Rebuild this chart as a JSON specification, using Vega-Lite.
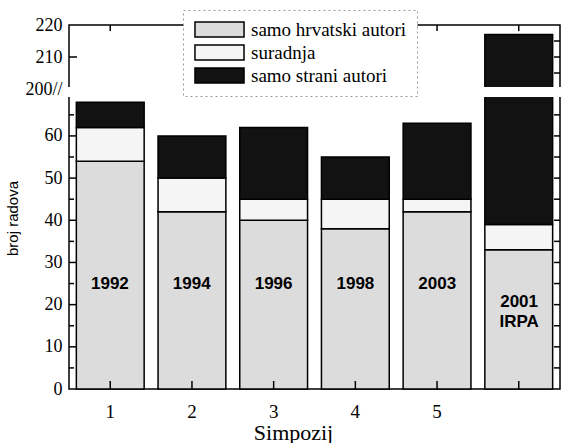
{
  "$schema": "https://vega.github.io/schema/vega-lite/v6.json",
  "width": 491,
  "height": 364,
  "autosize": {"type": "none"},
  "padding": {"left": 69, "top": 25, "right": 4, "bottom": 54},
  "background": "white",
  "config": {
    "view": {"stroke": "black", "strokeWidth": 1.5},
    "font": "Liberation Serif",
    "axis": {"domain": false, "ticks": false, "labelColor": "black", "titleColor": "black", "grid": false}
  },
  "datasets": {
    "bars": [
      {"sim": 1, "grupa": "samo hrvatski autori", "k": 1, "n": 54},
      {"sim": 1, "grupa": "suradnja", "k": 2, "n": 8},
      {"sim": 1, "grupa": "samo strani autori", "k": 3, "n": 6},
      {"sim": 2, "grupa": "samo hrvatski autori", "k": 1, "n": 42},
      {"sim": 2, "grupa": "suradnja", "k": 2, "n": 8},
      {"sim": 2, "grupa": "samo strani autori", "k": 3, "n": 10},
      {"sim": 3, "grupa": "samo hrvatski autori", "k": 1, "n": 40},
      {"sim": 3, "grupa": "suradnja", "k": 2, "n": 5},
      {"sim": 3, "grupa": "samo strani autori", "k": 3, "n": 17},
      {"sim": 4, "grupa": "samo hrvatski autori", "k": 1, "n": 38},
      {"sim": 4, "grupa": "suradnja", "k": 2, "n": 7},
      {"sim": 4, "grupa": "samo strani autori", "k": 3, "n": 10},
      {"sim": 5, "grupa": "samo hrvatski autori", "k": 1, "n": 42},
      {"sim": 5, "grupa": "suradnja", "k": 2, "n": 3},
      {"sim": 5, "grupa": "samo strani autori", "k": 3, "n": 18},
      {"sim": 6, "grupa": "samo hrvatski autori", "k": 1, "n": 33},
      {"sim": 6, "grupa": "suradnja", "k": 2, "n": 6},
      {"sim": 6, "grupa": "samo strani autori", "k": 3, "n": 178}
    ],
    "labels": [
      {"sim": 1, "t": "1992", "ly": 25},
      {"sim": 2, "t": "1994", "ly": 25},
      {"sim": 3, "t": "1996", "ly": 25},
      {"sim": 4, "t": "1998", "ly": 25},
      {"sim": 5, "t": "2003", "ly": 25},
      {"sim": 6, "t": "2001\nIRPA", "ly": 20.6}
    ],
    "brk": [{"a": 69.7, "b": 200}],
    "majorTicks": [{"v": 10}, {"v": 20}, {"v": 30}, {"v": 40}, {"v": 50}, {"v": 60}, {"v": 210}],
    "minorTicks": [{"v": 5}, {"v": 15}, {"v": 25}, {"v": 35}, {"v": 45}, {"v": 55}, {"v": 65}],
    "rightTicks": [{"v": 5}, {"v": 10}, {"v": 15}, {"v": 20}, {"v": 25}, {"v": 30}, {"v": 35}, {"v": 40}, {"v": 45}, {"v": 50}, {"v": 55}, {"v": 60}, {"v": 65}, {"v": 205}, {"v": 210}, {"v": 215}]
  },
  "layer": [
    {
      "data": {"name": "bars"},
      "mark": {"type": "bar", "stroke": "black", "strokeWidth": 1.5},
      "encoding": {
        "x": {
          "field": "sim", "type": "ordinal",
          "scale": {"paddingInner": 0.17, "paddingOuter": 0.09},
          "axis": {"orient": "bottom", "labelAngle": 0, "labelFontSize": 19, "labelFont": "Liberation Serif", "labelPadding": 13,
            "labelExpr": "datum.value == 6 ? '' : datum.label",
            "title": "Simpozij", "titleFont": "Liberation Serif", "titleFontSize": 22, "titleFontWeight": "normal", "titleX": 224, "titleY": 50, "titleBaseline": "alphabetic", "titleAnchor": "middle", "titleAlign": "center"}
        },
        "y": {
          "field": "n", "type": "quantitative", "stack": "zero",
          "scale": {"domain": [0, 69.7, 200, 220], "range": [364, 70, 64, 0], "nice": false, "zero": false},
          "axis": {"orient": "left", "values": [0, 10, 20, 30, 40, 50, 60, 200, 210, 220],
            "labelExpr": "datum.value === 200 ? '200//' : format(datum.value, 'd')",
            "labelFontSize": 18, "labelFont": "Liberation Serif", "labelPadding": 7,
            "title": "broj radova", "titleFont": "Liberation Sans", "titleFontSize": 15, "titleFontWeight": "normal", "titleAngle": -90, "titleX": -57, "titleY": 193, "titleAlign": "center", "titleBaseline": "middle"}
        },
        "color": {
          "field": "grupa", "type": "nominal",
          "scale": {"domain": ["samo hrvatski autori", "suradnja", "samo strani autori"], "range": ["#dcdcdc", "#f5f5f5", "#121212"]},
          "legend": {"orient": "none", "legendX": 114, "legendY": -15, "title": null, "padding": 10,
            "strokeColor": "#999999", "fillColor": "white",
            "encode": {"legend": {"update": {"strokeDash": {"value": [2, 3]}}}},
            "symbolType": "M-3.27,-1H3.27V1H-3.27Z", "symbolSize": 225, "symbolStrokeColor": "black", "symbolStrokeWidth": 1.5, "symbolOpacity": 1,
            "symbolOffset": 17, "labelOffset": 22, "labelFont": "Liberation Serif", "labelFontSize": 19, "labelColor": "black", "rowPadding": 2, "labelLimit": 300}
        },
        "order": {"field": "k", "type": "quantitative", "sort": "ascending"}
      }
    },
    {
      "data": {"name": "brk"},
      "mark": {"type": "rect", "fill": "white", "stroke": "white", "strokeWidth": 4},
      "encoding": {
        "y": {"field": "a", "type": "quantitative",
          "scale": {"domain": [0, 69.7, 200, 220], "range": [364, 70, 64, 0], "nice": false, "zero": false},
          "axis": null},
        "y2": {"field": "b"}
      }
    },
    {
      "data": {"name": "labels"},
      "mark": {"type": "text", "font": "Liberation Sans", "fontWeight": "bold", "fontSize": 17, "lineBreak": "\n", "lineHeight": 20, "color": "black", "baseline": "middle"},
      "encoding": {
        "x": {"field": "sim", "type": "ordinal", "scale": {"paddingInner": 0.17, "paddingOuter": 0.09}, "axis": null},
        "y": {"field": "ly", "type": "quantitative", "axis": null},
        "text": {"field": "t"}
      }
    },
    {
      "data": {"name": "majorTicks"},
      "mark": {"type": "rule", "stroke": "black", "strokeWidth": 1.5},
      "encoding": {
        "x": {"datum": 0, "type": "quantitative", "scale": {"domain": [0, 491], "nice": false, "zero": false}, "axis": null},
        "x2": {"datum": 8},
        "y": {"field": "v", "type": "quantitative", "axis": null}
      }
    },
    {
      "data": {"name": "minorTicks"},
      "mark": {"type": "rule", "stroke": "black", "strokeWidth": 1.5},
      "encoding": {
        "x": {"datum": 0, "type": "quantitative", "scale": {"domain": [0, 491], "nice": false, "zero": false}, "axis": null},
        "x2": {"datum": 5},
        "y": {"field": "v", "type": "quantitative", "axis": null}
      }
    },
    {
      "data": {"name": "rightTicks"},
      "mark": {"type": "rule", "stroke": "black", "strokeWidth": 1.5},
      "encoding": {
        "x": {"datum": 485, "type": "quantitative", "scale": {"domain": [0, 491], "nice": false, "zero": false}, "axis": null},
        "x2": {"datum": 491},
        "y": {"field": "v", "type": "quantitative", "axis": null}
      }
    },
    {
      "data": {"name": "labels"},
      "mark": {"type": "rule", "stroke": "black", "strokeWidth": 1.5},
      "encoding": {
        "x": {"field": "sim", "type": "ordinal", "scale": {"paddingInner": 0.17, "paddingOuter": 0.09}, "axis": null},
        "y": {"datum": 0, "type": "quantitative", "axis": null},
        "y2": {"datum": 1.9}
      }
    },
    {
      "data": {"name": "labels"},
      "mark": {"type": "rule", "stroke": "black", "strokeWidth": 1.5},
      "encoding": {
        "x": {"field": "sim", "type": "ordinal", "scale": {"paddingInner": 0.17, "paddingOuter": 0.09}, "axis": null},
        "y": {"datum": 220, "type": "quantitative", "axis": null},
        "y2": {"datum": 218.1}
      }
    }
  ],
  "resolve": {"scale": {"x": "independent"}, "axis": {"y": "independent", "x": "independent"}}
}
